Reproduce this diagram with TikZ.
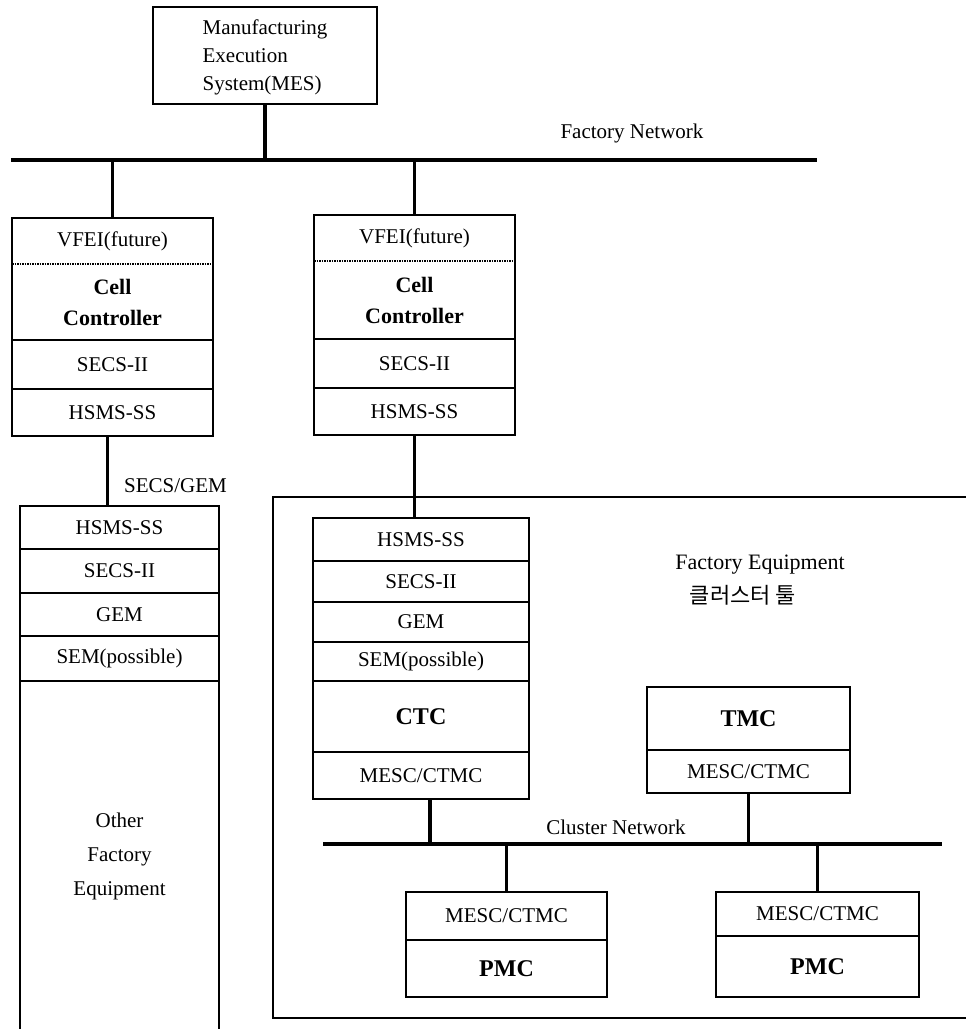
\documentclass[tikz,border=0pt]{standalone}
\usepackage{fontspec}
\setmainfont{Liberation Serif}
\newfontfamily\krfont{Noto Sans CJK KR}
\usetikzlibrary{positioning}

\begin{document}
\begin{tikzpicture}[x=1pt, y=-1pt,
  row/.style={draw, line width=1.4pt, inner sep=0pt, outer sep=0pt,
              minimum width=#1, align=center, font=\fontsize{21}{28}\selectfont},
  boldrow/.style={row=#1, font=\fontsize{24}{31}\selectfont\bfseries},
  stem/.style={line width=3.4pt},
  net/.style={line width=3.8pt},
  frame/.style={line width=1.6pt},
  futureline/.style={line width=1.4pt, dash pattern=on 1.5pt off 1pt},
  lbl/.style={inner sep=0pt, font=\fontsize{21}{28}\selectfont}
]
\useasboundingbox (0,0) rectangle (966,1029);
\clip (0,0) rectangle (966,1029);

% MES on the factory network
\node[row=224pt, minimum height=97pt, align=left, text depth=-6pt] (mes) at (265,55.5) {Manufacturing\\Execution\\System(MES)};
\coordinate (fnet-w) at (11,160);
\coordinate (fnet-e) at (817,160);
\draw[net] (fnet-w) -- (fnet-e);
\node[lbl] (fnet) at (632,133) {Factory Network};

% cell controllers
\node[row=201pt, minimum height=46pt, anchor=north] (cc1a) at (112.5,218) {VFEI(future)};
\node[boldrow=201pt, font=\fontsize{22}{31}\selectfont\bfseries, minimum height=76pt, below=0pt of cc1a] (cc1b) {Cell\\Controller};
\node[row=201pt, minimum height=49pt, below=0pt of cc1b] (cc1c) {SECS-II};
\node[row=201pt, minimum height=47pt, below=0pt of cc1c] (cc1d) {HSMS-SS};

\node[row=201pt, minimum height=46pt, anchor=north] (cc2a) at (414.5,215) {VFEI(future)};
\node[boldrow=201pt, font=\fontsize{22}{31}\selectfont\bfseries, minimum height=78pt, below=0pt of cc2a] (cc2b) {Cell\\Controller};
\node[row=201pt, minimum height=49pt, below=0pt of cc2b] (cc2c) {SECS-II};
\node[row=201pt, minimum height=47pt, below=0pt of cc2c] (cc2d) {HSMS-SS};

% dotted VFEI dividers
\foreach \cc in {cc1a,cc2a}{
  \draw[white, line width=1.8pt] (\cc.south west) -- (\cc.south east);
  \draw[futureline] (\cc.south west) -- (\cc.south east);
}

\draw[stem] (mes.south) -- (mes.south |- fnet-w);
\draw[stem] (cc1a.north |- fnet-w) -- (cc1a.north);
\draw[stem] (cc2a.north |- fnet-w) -- (cc2a.north);

% other factory equipment
\node[row=199pt, minimum height=43pt, anchor=north] (oea) at (119.5,506) {HSMS-SS};
\node[row=199pt, minimum height=44pt, below=0pt of oea] (oeb) {SECS-II};
\node[row=199pt, minimum height=43pt, below=0pt of oeb] (oec) {GEM};
\node[row=199pt, minimum height=45pt, below=0pt of oec] (oed) {SEM(possible)};
\node[row=199pt, minimum height=351pt, below=0pt of oed, font=\fontsize{21}{34}\selectfont] (oee) {Other\\Factory\\Equipment};

\draw[stem] ([xshift=-5pt]cc1d.south) -- ([xshift=-5pt]cc1d.south |- oea.north);
\node[lbl, anchor=west] (secsgem) at (124,486) {SECS/GEM};

% cluster tool
\draw[frame] (980,497) -| (273,1018) -- (980,1018);
\node[lbl, font=\fontsize{22}{28}\selectfont] (fe) at (760,565) {Factory Equipment};
\node[lbl, font=\fontsize{22}{28}\krfont] (ct) at (743,595) {클러스터 툴};

\node[row=216pt, minimum height=43pt, anchor=north] (ctca) at (421,518) {HSMS-SS};
\node[row=216pt, minimum height=41pt, below=0pt of ctca] (ctcb) {SECS-II};
\node[row=216pt, minimum height=40pt, below=0pt of ctcb] (ctcc) {GEM};
\node[row=216pt, minimum height=39pt, below=0pt of ctcc] (ctcd) {SEM(possible)};
\node[boldrow=216pt, minimum height=71pt, below=0pt of ctcd] (ctce) {CTC};
\node[row=216pt, minimum height=47pt, below=0pt of ctce] (ctcf) {MESC/CTMC};

\draw[stem] (cc2d.south) -- (cc2d.south |- ctca.north);

\node[boldrow=203pt, minimum height=63pt, anchor=north] (tmca) at (748.5,687) {TMC};
\node[row=203pt, minimum height=43pt, below=0pt of tmca] (tmcb) {MESC/CTMC};

\node[row=201pt, minimum height=48pt, anchor=north] (pmc1a) at (506.5,892) {MESC/CTMC};
\node[boldrow=201pt, minimum height=57pt, below=0pt of pmc1a] (pmc1b) {PMC};
\node[row=203pt, minimum height=44pt, anchor=north] (pmc2a) at (817.5,892) {MESC/CTMC};
\node[boldrow=203pt, minimum height=61pt, below=0pt of pmc2a] (pmc2b) {PMC};

% cluster network
\coordinate (cnet-w) at (323,844);
\coordinate (cnet-e) at (942,844);
\draw[net] (cnet-w) -- (cnet-e);
\node[lbl] (cnet) at (616,827) {Cluster Network};

\draw[stem] ([xshift=9pt]ctcf.south) -- ([xshift=9pt]ctcf.south |- cnet-w);
\draw[stem] (tmcb.south) -- (tmcb.south |- cnet-w);
\draw[stem] (pmc1a.north |- cnet-w) -- (pmc1a.north);
\draw[stem] (pmc2a.north |- cnet-w) -- (pmc2a.north);
\end{tikzpicture}
\end{document}
